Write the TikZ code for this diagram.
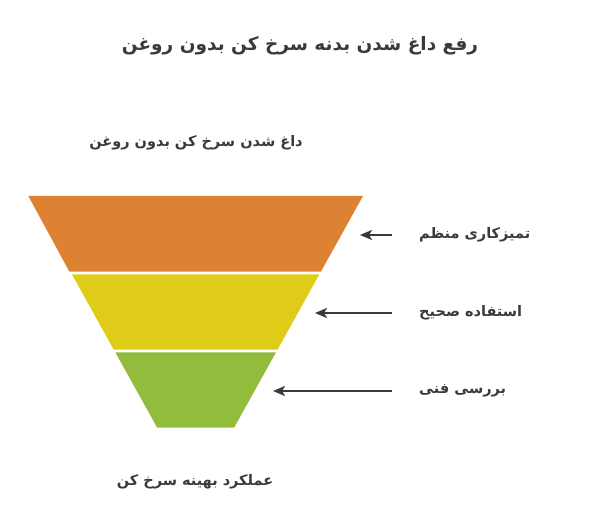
\documentclass[tikz,border=0pt]{standalone}
\usepackage{fontspec}
\newfontfamily\arabicfont[Script=Arabic]{DejaVu Sans}
\TeXXeTstate=1
\usetikzlibrary{arrows.meta}
\definecolor{fOrange}{RGB}{221,130,50}
\definecolor{fYellow}{RGB}{222,204,24}
\definecolor{fGreen}{RGB}{146,188,60}
\definecolor{txt}{RGB}{58,58,58}
\begin{document}
\begin{tikzpicture}[x=1pt,y=-1pt,
  lab/.style={text=txt,font=\arabicfont\bfseries\fontsize{14.5}{17}\selectfont,inner sep=0pt},
  arr/.style={draw=txt,line width=2.2pt,-{Stealth[length=12pt,width=10pt,inset=3pt]}}]
\useasboundingbox (0,0) rectangle (600,529);
\fill[fOrange] (28.3,196) -- (363,196) -- (320.9,271.7) -- (69.4,271.7) -- cycle;
\fill[fYellow] (71.9,274.3) -- (319.4,274.3) -- (277.5,349.7) -- (113.8,349.7) -- cycle;
\fill[fGreen] (115.3,352.3) -- (276,352.3) -- (234.1,427.7) -- (157.2,427.7) -- cycle;
\node[lab,font=\arabicfont\bfseries\fontsize{18.5}{22}\selectfont] (title) at (300,46) {\beginR رفع داغ شدن بدنه سرخ کن بدون روغن\endR};
\node[lab] (top) at (196,143) {\beginR داغ شدن سرخ کن بدون روغن\endR};
\node[lab] (bot) at (195,482) {\beginR عملکرد بهینه سرخ کن\endR};
\node[lab,anchor=west] (l1) at (419,235) {\beginR تمیزکاری منظم\endR};
\node[lab,anchor=west] (l2) at (419,313) {\beginR استفاده صحیح\endR};
\node[lab,anchor=west] (l3) at (419,391) {\beginR بررسی فنی\endR};
\coordinate (t1) at (360,235);
\coordinate (t2) at (315,313);
\coordinate (t3) at (273,391);
\draw[arr,shorten <=27pt] (l1.west) -- (t1);
\draw[arr,shorten <=27pt] (l2.west) -- (t2);
\draw[arr,shorten <=27pt] (l3.west) -- (t3);
\end{tikzpicture}
\end{document}
